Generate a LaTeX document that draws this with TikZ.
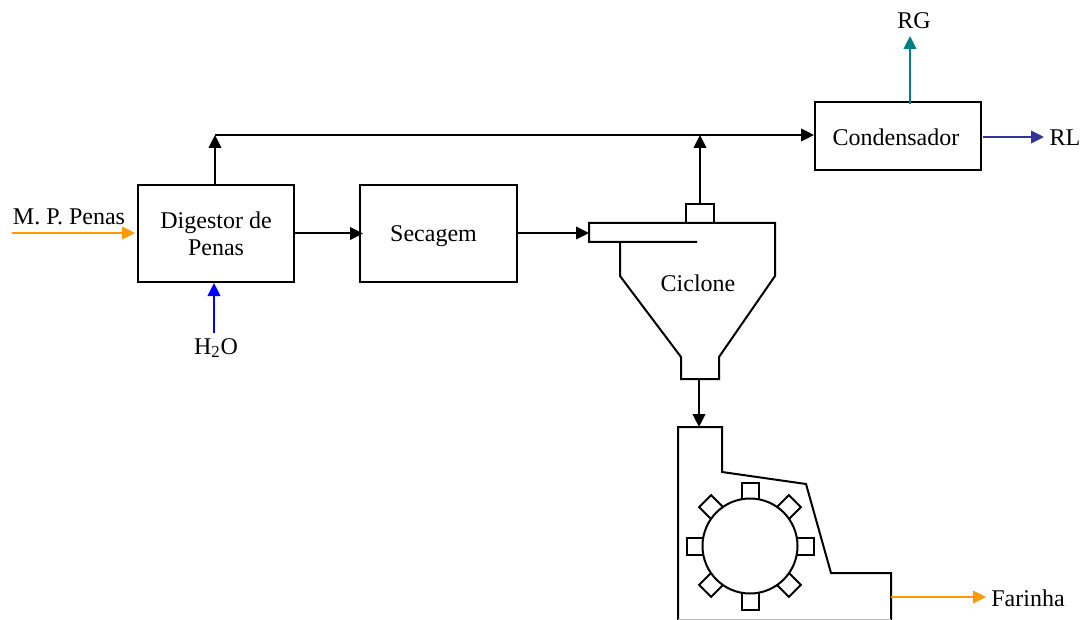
\documentclass[tikz,border=0pt]{standalone}
\usepackage{fontspec}
\setmainfont{Liberation Serif}
\usepackage{xcolor}
\usetikzlibrary{arrows.meta,calc}
\definecolor{laranja}{HTML}{FF9900}
\definecolor{azul}{HTML}{0000FF}
\definecolor{verde}{HTML}{008080}
\definecolor{marinho}{HTML}{333399}

\begin{document}
\begin{tikzpicture}[x=0.75pt, y=-0.75pt, >={Triangle[length=9.75pt, width=9.5pt]}, line width=1.5pt,
    bloco/.style={rectangle, draw, inner sep=0pt, align=center},
    rotulo/.style={inner sep=0pt, align=center},
    dente/.style={rectangle, draw, fill=white, minimum size=12.75pt, inner sep=0pt},
    every node/.append style={font=\fontsize{18}{20.25}\selectfont}]
  \useasboundingbox (0, 0) rectangle (1088, 620);

  % Blocos
  \node[bloco, minimum width=117pt, minimum height=72.75pt] (digestor) at (216, 233.5) {Digestor de\\Penas};
  \node[bloco, minimum width=117.75pt, minimum height=72.75pt] (secagem) at (438.5, 233.5) {};
  \node[rotulo] at (433.5, 236) {Secagem};
  \node[bloco, minimum width=124.5pt, minimum height=51pt] (condensador) at (898, 136) {};
  \node[rotulo] at (896, 137) {Condensador};

  % Ciclone
  \coordinate (entrada) at (589, 233);
  \coordinate (saidatopo) at (700, 204);
  \coordinate (saidafundo) at (699, 380);
  \draw[line join=miter] (620, 242) -- (620, 276) -- (681, 357) -- (681, 379) -- (719, 379) -- (719, 357)
    -- (775, 276) -- (775, 223) -- (589, 223) -- (589, 242) -- (697, 242);
  \draw (686, 223) -- (686, 204) -- (714, 204) -- (714, 223);
  \node[rotulo] at (698, 283) {Ciclone};

  % Moinho
  \coordinate (moinhotopo) at (699, 427);
  \coordinate (moinhosaida) at (891, 597);
  \draw (678, 620) -- (678, 427) -- (722, 427) -- (722, 472) -- (806, 484) -- (831, 573) -- (891, 573) -- (891, 620);
  \draw[gray!50] (678, 619.5) -- (891, 619.5);
  \foreach \ang in {0, 45, ..., 315} {
    \node[dente, rotate=\ang] (dente\ang) at ($(750, 546) + (\ang:41.25pt)$) {};
  }
  \node[circle, draw, fill=white, minimum size=71.25pt, inner sep=0pt] (rotor) at (750, 546) {};

  % Rotulos externos
  \node[rotulo] (penas) at (69, 217) {M. P. Penas};
  \node[rotulo] (agua) at (216, 348) {H\textsubscript{2}O};
  \node[rotulo] (rg) at (914, 21) {RG};
  \node[rotulo] (rl) at (1065, 138) {RL};
  \node[rotulo] (farinha) at (1028, 598) {Farinha};

  % Pontos livres
  \coordinate (n1) at (215, 135);
  \coordinate (n2) at (700, 135);
  \coordinate (c1) at (12, 233);
  \coordinate (c2) at (135, 233);
  \coordinate (a1) at (214, 333);
  \coordinate (g1) at (910, 104);
  \coordinate (g2) at (910, 36);
  \coordinate (l1) at (983, 137);
  \coordinate (l2) at (1044, 137);
  \coordinate (f2) at (986, 597);

  % Correntes
  \draw[->] (digestor.north -| n1) -- (n1);
  \draw[->] (n1) -- (n1 -| condensador.west);
  \draw[->] (saidatopo) -- (n2);
  \draw[->, shorten >=-3pt] (digestor.east) -- (secagem.west);
  \draw[->] (secagem.east |- entrada) -- (entrada);
  \draw[->] (saidafundo) -- (moinhotopo);
  \draw[->, laranja] (c1) -- (c2);
  \draw[->, azul] (a1) -- (a1 |- digestor.south);
  \draw[->, verde] (g1) -- (g2);
  \draw[->, marinho] (l1) -- (l2);
  \draw[->, laranja] (moinhosaida) -- (f2);
\end{tikzpicture}
\end{document}
